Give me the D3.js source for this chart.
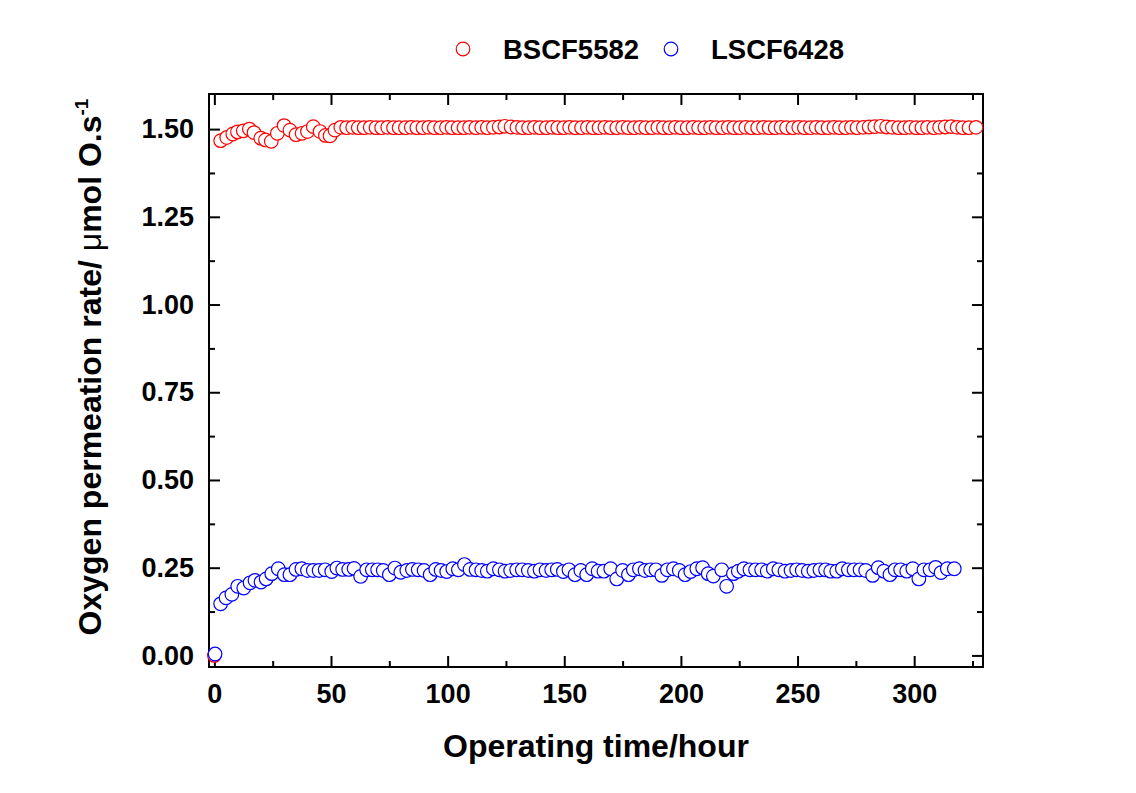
<!DOCTYPE html>
<html>
<head>
<meta charset="utf-8">
<script src="https://cdn.jsdelivr.net/npm/d3@7"></script>
<style>
  body { margin: 0; background: #fff; }
  #graf text { font-family: Arial, "Liberation Sans", sans-serif; font-weight: bold; }
</style>
</head>
<body>
<div id="graf"></div>
<script>
// I. Datos
series = ['BSCF5582', 'LSCF6428']
colores = ['#ff0000', '#0000ff']

tiempoBSCF = [0, 2.7, 5.3, 7.9, 9.9, 12.4, 15.0, 17.0, 19.9, 21.9, 24.4, 27.0, 29.9, 32.4, 35.0, 37.6, 39.9, 42.4, 45.3, 47.6, 49.6, 51.7, 54.2,
  56.7, 59.3, 61.7, 64.2, 66.8, 69.3, 71.7, 74.3, 76.8, 79.2, 81.9, 84.4, 86.8, 89.4, 91.9, 94.3, 97.0, 99.5, 101.9, 104.5,
  107.0, 109.4, 112.1, 114.6, 117.0, 119.6, 122.1, 124.5, 127.2, 129.7, 132.1, 134.7, 137.2, 139.6, 142.3, 144.8, 147.2, 149.8, 152.3, 154.7,
  157.4, 159.9, 162.3, 164.9, 167.4, 169.8, 172.5, 175.0, 177.4, 180.0, 182.5, 184.9, 187.6, 190.1, 192.5, 195.1, 197.6, 200.0, 202.7, 205.2,
  207.6, 210.2, 212.7, 215.1, 217.8, 220.3, 222.7, 225.3, 227.8, 230.2, 232.9, 235.4, 237.8, 240.4, 242.9, 245.3, 248.0, 250.5, 252.9, 255.5,
  258.0, 260.4, 263.1, 265.6, 268.0, 270.6, 273.1, 275.5, 278.2, 280.7, 283.1, 285.7, 288.2, 290.6, 293.3, 295.8, 298.2, 300.8, 303.3, 305.7,
  308.4, 310.9, 313.3, 315.9, 318.4, 320.8, 323.5, 326.5]
flujoBSCF = [0.000, 1.467, 1.476, 1.486, 1.492, 1.495, 1.500, 1.490, 1.474, 1.469, 1.465, 1.488, 1.510, 1.497, 1.484, 1.488, 1.493, 1.507, 1.493, 1.482, 1.481, 1.497, 1.505,
  1.504, 1.505, 1.504, 1.504, 1.505, 1.504, 1.504, 1.505, 1.504, 1.504, 1.504, 1.505, 1.504, 1.504, 1.505, 1.504, 1.504, 1.505, 1.504, 1.504,
  1.504, 1.505, 1.504, 1.505, 1.504, 1.505, 1.506, 1.508, 1.506, 1.505, 1.504, 1.504, 1.505, 1.504, 1.504, 1.505, 1.504, 1.504, 1.505, 1.504,
  1.504, 1.505, 1.504, 1.504, 1.505, 1.504, 1.504, 1.505, 1.504, 1.504, 1.505, 1.504, 1.504, 1.505, 1.504, 1.504, 1.505, 1.504, 1.504, 1.505,
  1.504, 1.504, 1.505, 1.504, 1.504, 1.505, 1.504, 1.504, 1.505, 1.504, 1.504, 1.505, 1.504, 1.504, 1.505, 1.504, 1.504, 1.505, 1.504, 1.504,
  1.505, 1.504, 1.504, 1.505, 1.504, 1.504, 1.505, 1.504, 1.505, 1.506, 1.507, 1.508, 1.506, 1.505, 1.504, 1.504, 1.505, 1.504, 1.504, 1.505,
  1.504, 1.505, 1.506, 1.507, 1.505, 1.504, 1.504, 1.505]

tiempoLSCF = [0.3, 2.7, 5.0, 7.5, 10.0, 12.6, 15.3, 17.4, 20.0, 22.2, 24.6, 27.4, 30.0, 32.4, 35.0, 37.5, 39.9, 42.4, 44.9, 47.5,
  50.3, 52.5, 55.0, 57.6, 59.9, 62.7, 65.3, 67.7, 70.0, 72.4, 75.0, 77.4, 79.9, 82.5, 84.9, 87.4, 89.9, 92.5, 94.9, 97.2,
  99.6, 102.2, 104.6, 107.2, 109.6, 112.2, 114.6, 117.0, 119.6, 122.2, 124.6, 127.0, 129.6, 132.0, 134.6, 137.2, 139.6, 142.2, 144.6, 147.0,
  149.6, 152.0, 154.6, 157.1, 159.6, 162.0, 164.5,
  167.0, 169.9, 172.5, 175.0, 177.5, 179.6, 182.2, 184.6, 187.0, 189.3, 191.8, 194.2, 196.8, 199.3, 201.8, 204.2, 206.8, 209.3, 211.7, 213.9,
  217.5, 219.6, 222.5, 224.6, 227.0, 229.6, 232.0, 234.6, 237.0, 239.6, 242.0, 244.6, 247.2, 249.6, 252.0, 254.6, 257.0, 259.6, 262.0, 264.2,
  266.8, 269.2, 271.8, 274.2, 276.8, 279.2, 282.2, 284.6, 287.0, 289.6, 291.8, 294.2, 296.8, 299.4, 302.0, 304.2, 306.8, 309.2, 311.5, 314.2,
  317.2]
flujoLSCF = [0.004, 0.147, 0.164, 0.174, 0.197, 0.192, 0.207, 0.214, 0.209, 0.218, 0.233, 0.247, 0.230, 0.230, 0.245, 0.247, 0.242, 0.242, 0.242, 0.244,
  0.239, 0.249, 0.245, 0.245, 0.248, 0.225, 0.244, 0.244, 0.244, 0.242, 0.230, 0.249, 0.237, 0.242, 0.245, 0.244, 0.242, 0.230, 0.245, 0.242,
  0.239, 0.247, 0.244, 0.259, 0.245, 0.244, 0.242, 0.240, 0.247, 0.244, 0.240, 0.242, 0.244, 0.244, 0.242, 0.240, 0.244, 0.242, 0.244, 0.245,
  0.239, 0.244, 0.230, 0.242, 0.230, 0.247, 0.240,
  0.240, 0.247, 0.218, 0.242, 0.230, 0.244, 0.247, 0.242, 0.244, 0.244, 0.228, 0.244, 0.247, 0.242, 0.230, 0.239, 0.247, 0.250, 0.233, 0.226,
  0.244, 0.197, 0.233, 0.240, 0.247, 0.244, 0.244, 0.244, 0.240, 0.247, 0.244, 0.240, 0.242, 0.244, 0.242, 0.240, 0.242, 0.244, 0.244, 0.240,
  0.240, 0.247, 0.244, 0.244, 0.244, 0.242, 0.228, 0.250, 0.240, 0.230, 0.244, 0.244, 0.240, 0.247, 0.218, 0.244, 0.244, 0.251, 0.236, 0.247,
  0.247]

xTicks = [0, 50, 100, 150, 200, 250, 300]
xMinor = [25, 75, 125, 175, 225, 275, 325]
yTicks = [0, 0.25, 0.5, 0.75, 1.0, 1.25, 1.5]
yMinor = [0.125, 0.375, 0.625, 0.875, 1.125, 1.375]

// II. Configuración
ancho_total = 1136
alto_total = 793
margins = { top: 94, left: 209, right: 153, bottom: 126 }
ancho = ancho_total - margins.left - margins.right
alto = alto_total - margins.top - margins.bottom

svg = d3.select('#graf').append('svg')
  .attr('width', ancho_total)
  .attr('height', alto_total)

g = svg.append('g')
  .attr('transform', `translate(${margins.left}, ${margins.top})`)

x = d3.scaleLinear().domain([-2.3, 329.5]).range([0, ancho])
y = d3.scaleLinear().domain([-0.033, 1.6]).range([alto, 0])

// III. Ejes (ticks hacia dentro en los cuatro lados)
function eje(axis, tr, conTexto) {
  e = g.append('g').attr('transform', tr).call(axis)
  e.select('.domain').remove()
  e.selectAll('line').attr('stroke', '#000').attr('stroke-width', 2)
  e.selectAll('text').attr('font-size', 27).attr('fill', '#000')
  if (!conTexto) e.selectAll('text').remove()
  return e
}

eje(d3.axisBottom(x).tickValues(xTicks).tickSizeInner(-11).tickSizeOuter(0).tickPadding(17).tickFormat(d3.format('d')),
  `translate(0, ${alto})`, true)
eje(d3.axisBottom(x).tickValues(xMinor).tickSizeInner(-6).tickSizeOuter(0), `translate(0, ${alto})`, false)
eje(d3.axisTop(x).tickValues(xTicks).tickSizeInner(-11).tickSizeOuter(0), 'translate(0, 0)', false)
eje(d3.axisTop(x).tickValues(xMinor).tickSizeInner(-6).tickSizeOuter(0), 'translate(0, 0)', false)
eje(d3.axisLeft(y).tickValues(yTicks).tickSizeInner(-11).tickSizeOuter(0).tickPadding(15).tickFormat(d3.format('.2f')),
  'translate(0, 0)', true)
eje(d3.axisLeft(y).tickValues(yMinor).tickSizeInner(-6).tickSizeOuter(0), 'translate(0, 0)', false)
eje(d3.axisRight(y).tickValues(yTicks).tickSizeInner(-11).tickSizeOuter(0), `translate(${ancho}, 0)`, false)
eje(d3.axisRight(y).tickValues(yMinor).tickSizeInner(-6).tickSizeOuter(0), `translate(${ancho}, 0)`, false)

g.append('rect')
  .attr('width', ancho)
  .attr('height', alto)
  .attr('fill', 'none')
  .attr('stroke', '#000')
  .attr('stroke-width', 2)

// IV. Puntos
datos = [
  d3.zip(tiempoBSCF, flujoBSCF),
  d3.zip(tiempoLSCF, flujoLSCF)
]

datos.forEach((serie, i) => {
  g.append('g').selectAll('circle')
    .data(serie)
    .enter()
    .append('circle')
    .attr('cx', d => x(d[0]))
    .attr('cy', d => y(d[1]))
    .attr('r', 6.8)
    .attr('fill', '#fff')
    .attr('stroke', colores[i])
    .attr('stroke-width', 1.2)
})

// V. Títulos
svg.append('text')
  .attr('x', margins.left + ancho / 2)
  .attr('y', 757)
  .attr('text-anchor', 'middle')
  .attr('font-size', 32)
  .text('Operating time/hour')

yt = svg.append('text')
  .attr('transform', 'translate(101, 367) rotate(-90)')
  .attr('text-anchor', 'middle')
  .attr('font-size', 32)
yt.append('tspan').text('Oxygen permeation rate/ ')
yt.append('tspan').attr('font-weight', 'normal').text('μ')
yt.append('tspan').text('mol O.s')
yt.append('tspan').attr('font-size', 19).attr('dy', -13).text('-1')

// VI. Leyenda
leyendaX = [463, 671]
series.forEach((s, i) => {
  svg.append('circle')
    .attr('cx', leyendaX[i])
    .attr('cy', 49)
    .attr('r', 6.8)
    .attr('fill', '#fff')
    .attr('stroke', colores[i])
    .attr('stroke-width', 1.2)
  svg.append('text')
    .attr('x', leyendaX[i] + 40)
    .attr('y', 59)
    .attr('font-size', 27.5)
    .text(s)
})
</script>
</body>
</html>
